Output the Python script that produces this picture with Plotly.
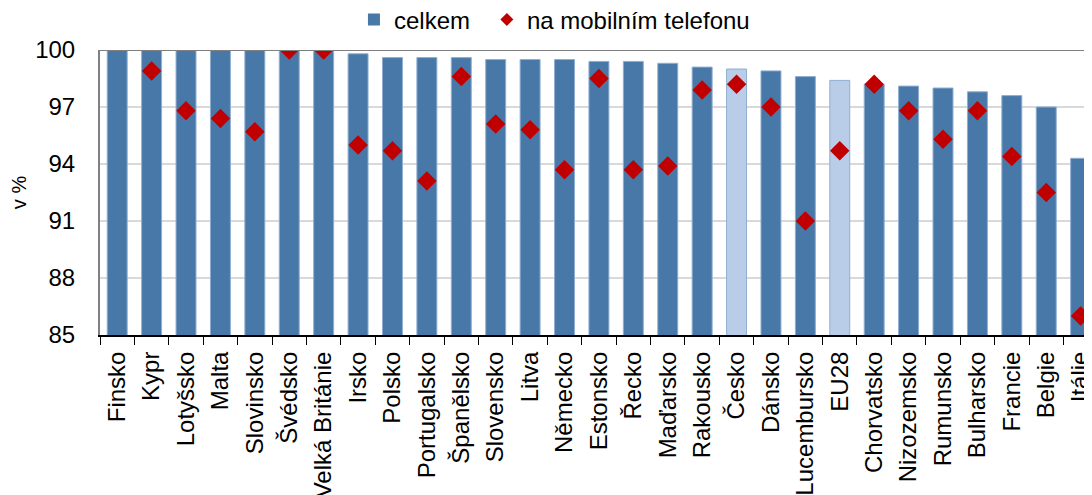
import plotly.graph_objects as go

# data
zeme = ["Finsko", "Kypr", "Lotyšsko", "Malta", "Slovinsko", "Švédsko", "Velká Británie",
        "Irsko", "Polsko", "Portugalsko", "Španělsko", "Slovensko", "Litva", "Německo",
        "Estonsko", "Řecko", "Maďarsko", "Rakousko", "Česko", "Dánsko", "Lucembursko",
        "EU28", "Chorvatsko", "Nizozemsko", "Rumunsko", "Bulharsko", "Francie", "Belgie",
        "Itálie"]
celkem = [100.0, 100.0, 100.0, 100.0, 100.0, 100.0, 100.0,
          99.8, 99.6, 99.6, 99.6, 99.5, 99.5, 99.5,
          99.4, 99.4, 99.3, 99.1, 99.0, 98.9, 98.6,
          98.4, 98.2, 98.1, 98.0, 97.8, 97.6, 97.0,
          94.3]
mobil = [None, 98.9, 96.8, 96.4, 95.7, 100.0, 100.0,
         95.0, 94.7, 93.1, 98.6, 96.1, 95.8, 93.7,
         98.5, 93.7, 93.9, 97.9, 98.2, 97.0, 91.0,
         94.7, 98.2, 96.8, 95.3, 96.8, 94.4, 92.5,
         86.0]
zvyraznit = {"Česko", "EU28"}

FONT = "Liberation Sans, Arial, sans-serif"
TMAVA = "#4878A8"
SVETLA = "#B9CDE8"
CERVENA = "#C00000"
bar_colors = [SVETLA if z in zvyraznit else TMAVA for z in zeme]

fig = go.Figure()
fig.add_bar(
    name="celkem", x=zeme, y=celkem, base=0, showlegend=False,
    marker=dict(color=bar_colors, line=dict(color="#8FAED0", width=1)),
    width=0.58,
)
fig.add_scatter(
    name="na mobilním telefonu", x=zeme, y=mobil, mode="markers", showlegend=False,
    marker=dict(symbol="diamond", color=CERVENA, size=15),
)
# legend-only entries (smaller symbols like the original), one legend each
fig.add_scatter(name="celkem", x=[None], y=[None], mode="markers", legend="legend",
                marker=dict(symbol="square", color=TMAVA, size=12))
fig.add_scatter(name="na mobilním telefonu", x=[None], y=[None], mode="markers",
                legend="legend2",
                marker=dict(symbol="diamond", color=CERVENA, size=10))

# darker line at the top of the plot (100 %)
fig.add_shape(type="line", xref="paper", yref="y", x0=0, x1=1, y0=100, y1=100,
              line=dict(color="#808080", width=2))

leg = dict(orientation="h", xanchor="left", yref="container", y=0.976, yanchor="middle",
           font=dict(size=24), itemwidth=30, bgcolor="rgba(0,0,0,0)")

# page body has an 8px margin, so margins are shifted to compensate
fig.update_layout(
    width=1092, height=495,
    margin=dict(l=92, r=8, t=42, b=168),
    plot_bgcolor="white", paper_bgcolor="white",
    font=dict(family=FONT, size=24, color="black"),
    bargap=0.42,
    showlegend=True,
    legend=dict(leg, x=0.256),
    legend2=dict(leg, x=0.39),
)
fig.update_xaxes(
    type="category", range=[-0.5, 28.33], automargin=False,
    tickangle=-90, tickson="boundaries", ticks="outside", ticklen=8,
    tickcolor="black", showline=True, linecolor="black", linewidth=2,
    showgrid=False, tickfont=dict(size=24), ticklabelstandoff=5,
)
fig.update_yaxes(
    range=[85, 100], tickvals=[85, 88, 91, 94, 97, 100], automargin=False,
    showgrid=True, gridcolor="#D9D9D9", gridwidth=2,
    showline=True, linecolor="#808080", linewidth=2,
    ticks="", tickfont=dict(size=24), ticklabelstandoff=18,
    title=dict(text="v %", font=dict(size=20), standoff=44),
    zeroline=False,
)

fig.write_html("out.html")
